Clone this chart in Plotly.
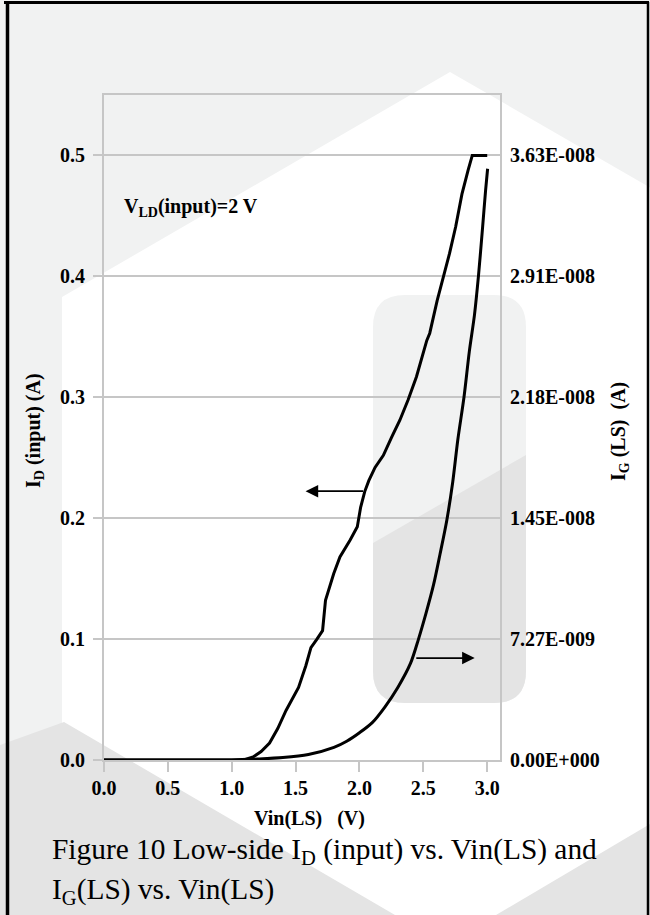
import plotly.graph_objects as go

# ---- data -------------------------------------------------------------
# Low-side drain current I_D(input) versus Vin(LS), left axis (A)
vin_id = [0.0, 0.5, 1.0, 1.10, 1.167, 1.23, 1.296, 1.36, 1.425, 1.523, 1.58,
          1.620, 1.667, 1.711, 1.734, 1.798, 1.847, 1.927, 1.983, 2.009, 2.041,
          2.073, 2.122, 2.187, 2.252, 2.316, 2.381, 2.446, 2.527, 2.55, 2.608,
          2.705, 2.753, 2.802, 2.851, 2.883, 3.0]
id_input = [0.0, 0.0, 0.0, 0.0003, 0.0025, 0.007, 0.014, 0.026, 0.041, 0.060, 0.078,
            0.093, 0.100, 0.107, 0.132, 0.154, 0.168, 0.182, 0.193, 0.209, 0.222,
            0.231, 0.242, 0.252, 0.267, 0.281, 0.298, 0.317, 0.347, 0.353, 0.380,
            0.419, 0.441, 0.468, 0.488, 0.500, 0.500]

# Low-side gate current I_G(LS) versus Vin(LS), right axis (A)
vin_ig = [0.0, 0.5, 1.0, 1.2, 1.4, 1.6, 1.8, 1.9, 2.0, 2.1, 2.2, 2.3, 2.4, 2.462,
          2.52, 2.58, 2.63, 2.683, 2.73, 2.77, 2.818, 2.86, 2.90, 2.932, 2.964,
          2.987, 3.003]
ig_ls = [0.0, 0.0, 0.0, 5.8e-11, 1.45e-10, 3.3e-10, 7.6e-10, 1.13e-9, 1.64e-9,
         2.25e-9, 3.20e-9, 4.36e-9, 5.82e-9, 7.27e-9, 8.80e-9, 1.054e-8, 1.236e-8,
         1.439e-8, 1.672e-8, 1.927e-8, 2.181e-8, 2.457e-8, 2.675e-8, 2.915e-8,
         3.206e-8, 3.424e-8, 3.555e-8]

id_ticks = [0.0, 0.1, 0.2, 0.3, 0.4, 0.5]
ig_tickvals = [0.0, 7.27e-9, 1.454e-8, 2.181e-8, 2.908e-8, 3.635e-8]
ig_ticktext = ["0.00E+000", "7.27E-009", "1.45E-008", "2.18E-008", "2.91E-008", "3.63E-008"]
vin_ticks = [0.0, 0.5, 1.0, 1.5, 2.0, 2.5, 3.0]

# ---- geometry ---------------------------------------------------------
W, H = 650, 915
L, R, T, B = 104, 150, 95, 155
PW, PH = W - L - R, H - T - B
Y_MAX = 0.55
IG_PER_ID = 7.27e-8

def px(x):
    return (x - L) / PW

def py(y):
    return (H - B - y) / PH

def path(points, close=True):
    s = "M " + " L ".join(f"{px(a):.5f},{py(b):.5f}" for a, b in points)
    return s + (" Z" if close else "")

def rounded_rect(x0, y0, x1, y1, r):
    d = f"M {px(x0 + r):.5f},{py(y0):.5f} L {px(x1 - r):.5f},{py(y0):.5f} "
    d += f"Q {px(x1):.5f},{py(y0):.5f} {px(x1):.5f},{py(y0 + r):.5f} "
    d += f"L {px(x1):.5f},{py(y1 - r):.5f} "
    d += f"Q {px(x1):.5f},{py(y1):.5f} {px(x1 - r):.5f},{py(y1):.5f} "
    d += f"L {px(x0 + r):.5f},{py(y1):.5f} "
    d += f"Q {px(x0):.5f},{py(y1):.5f} {px(x0):.5f},{py(y1 - r):.5f} "
    d += f"L {px(x0):.5f},{py(y0 + r):.5f} "
    d += f"Q {px(x0):.5f},{py(y0):.5f} {px(x0 + r):.5f},{py(y0):.5f} Z"
    return d

def rounded_bottom(x0, yl, x1, yr, y1, r):
    d = f"M {px(x0):.5f},{py(yl):.5f} L {px(x1):.5f},{py(yr):.5f} "
    d += f"L {px(x1):.5f},{py(y1 - r):.5f} "
    d += f"Q {px(x1):.5f},{py(y1):.5f} {px(x1 - r):.5f},{py(y1):.5f} "
    d += f"L {px(x0 + r):.5f},{py(y1):.5f} "
    d += f"Q {px(x0):.5f},{py(y1):.5f} {px(x0):.5f},{py(y1 - r):.5f} Z"
    return d

LIGHT = "#f1f2f2"
DARK = "#e4e4e4"
GRID = "#c6c6c6"
SERIF = "Liberation Serif, Times New Roman, serif"

shapes = []
def bg_shape(d, color):
    shapes.append(dict(type="path", path=d, xref="paper", yref="paper",
                       fillcolor=color, line=dict(width=0), layer="below"))

# backdrop hexagon pattern
bg_shape(path([(450, 72), (840, 297), (840, 745), (440, 965), (62, 742), (62, 297)]), "white")
bg_shape(path([(0, 745), (64, 722), (395, 915), (0, 915)]), DARK)
bg_shape(path([(496, 915), (650, 824), (650, 915)]), DARK)
bg_shape(rounded_rect(373, 295, 526, 703, 32), LIGHT)
bg_shape(rounded_bottom(373, 543, 526, 455, 703, 32), DARK)

# page border
for x0, y0, x1, y1, w in [(4, 2.5, 649, 2.5, 3), (7.5, 2, 7.5, 915, 3.5), (648, 2, 648, 915, 2.5)]:
    shapes.append(dict(type="line", xref="paper", yref="paper",
                       x0=px(x0), y0=py(y0), x1=px(x1), y1=py(y1),
                       line=dict(color="black", width=w), layer="above"))

fig = go.Figure()
fig.add_trace(go.Scatter(x=vin_id, y=id_input, mode="lines",
                         line=dict(color="black", width=3), yaxis="y",
                         showlegend=False, hoverinfo="skip"))
fig.add_trace(go.Scatter(x=vin_ig, y=ig_ls, mode="lines",
                         line=dict(color="black", width=3, shape="spline", smoothing=0.8),
                         yaxis="y2", showlegend=False, hoverinfo="skip"))

tick_font = dict(family=SERIF, size=20, color="black", weight="bold")
label_font = dict(family=SERIF, size=20, color="black", weight="bold")
caption_font = dict(family=SERIF, size=29.4, color="black")

def note(x, y, text, font, xanchor="center", angle=0):
    return dict(x=px(x), y=py(y), xref="paper", yref="paper", text=text,
                showarrow=False, font=font, xanchor=xanchor, yanchor="middle",
                textangle=angle)

annotations = [
    note(34, 431, "I<sub>D</sub> (input) (A)", label_font, angle=-90),
    note(619, 432, "I<sub>G</sub> (LS)\u00a0\u00a0(A)", label_font, angle=-90),
    note(309, 819, "Vin(LS)\u00a0\u00a0\u00a0(V)", label_font),
    note(122, 207, "V<sub>LD</sub>(input)=2 V", label_font, xanchor="left"),
    note(50, 851, "Figure 10 Low-side I<sub>D</sub> (input) vs. Vin(LS) and",
         caption_font, xanchor="left"),
    note(50, 891, "I<sub>G</sub>(LS) vs. Vin(LS)", caption_font, xanchor="left"),
    # arrows pointing to each curve's axis
    dict(x=1.578, y=0.2223, ax=2.04, ay=0.2223, xref="x", yref="y", axref="x", ayref="y",
         text="", showarrow=True, arrowhead=2, arrowsize=1.4, arrowwidth=1.8,
         arrowcolor="black"),
    dict(x=2.902, y=0.0843, ax=2.433, ay=0.0843, xref="x", yref="y", axref="x", ayref="y",
         text="", showarrow=True, arrowhead=2, arrowsize=1.4, arrowwidth=1.8,
         arrowcolor="black"),
]

fig.update_layout(
    width=W, height=H,
    margin=dict(l=L, r=R, t=T, b=B, pad=0),
    paper_bgcolor=LIGHT, plot_bgcolor="rgba(0,0,0,0)",
    shapes=shapes, annotations=annotations,
    xaxis=dict(range=[0, 3.1], tickvals=vin_ticks, tickformat=".1f",
               ticks="outside", ticklen=10, tickwidth=2, tickcolor=GRID,
               showline=True, linecolor=GRID, linewidth=2, mirror=True,
               showgrid=False, zeroline=False, tickfont=tick_font,
               ticklabelstandoff=-1),
    yaxis=dict(range=[0, Y_MAX], tickvals=id_ticks, tickformat=".1f",
               ticks="outside", ticklen=9, tickwidth=2, tickcolor=GRID,
               showline=True, linecolor=GRID, linewidth=2, mirror=True,
               showgrid=True, gridcolor=GRID, gridwidth=2, zeroline=False,
               tickfont=tick_font, ticklabelstandoff=4),
    yaxis2=dict(range=[0, Y_MAX * IG_PER_ID], overlaying="y", side="right",
                tickvals=ig_tickvals, ticktext=ig_ticktext, ticks="",
                showgrid=False, zeroline=False, showline=False,
                tickfont=tick_font, ticklabelstandoff=9),
)

fig.write_html("out.html")
